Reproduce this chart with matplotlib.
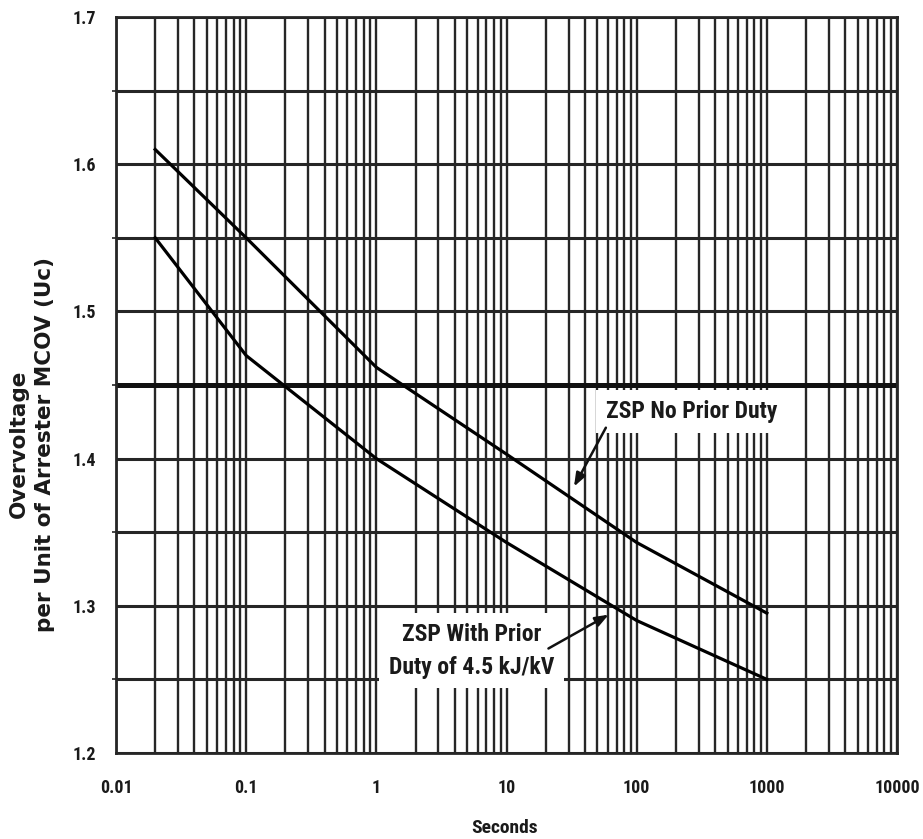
import matplotlib
matplotlib.use("Agg")
import matplotlib.pyplot as plt
from matplotlib.ticker import FixedLocator, MultipleLocator, LogLocator, NullFormatter

FONT = ["Roboto Condensed", "Open Sans Condensed", "DejaVu Sans"]
plt.rcParams["font.family"] = FONT
plt.rcParams["font.stretch"] = "condensed"

# Time (s) vs. per-unit overvoltage capability
seconds = [0.02, 0.1, 1, 10, 100, 1000]
no_prior_duty = [1.61, 1.55, 1.462, 1.403, 1.343, 1.295]
with_prior_duty = [1.55, 1.47, 1.40, 1.343, 1.29, 1.25]

x_ticks = [0.01, 0.1, 1, 10, 100, 1000, 10000]
x_tick_labels = ["0.01", "0.1", "1", "10", "100", "1000", "10000"]
y_ticks = [1.2, 1.3, 1.4, 1.5, 1.6, 1.7]
y_tick_labels = ["1.2", "1.3", "1.4", "1.5", "1.6", "1.7"]
heavy_levels = [1.45]

W, H = 923, 839
fig = plt.figure(figsize=(W / 100, H / 100), dpi=100)
ax = fig.add_axes([116 / W, 1 - 753 / H, (897 - 116) / W, (753 - 17) / H])

ax.set_xscale("log")
ax.set_xlim(0.01, 10000)
ax.set_ylim(1.2, 1.7)

grid_col = "#262626"
ax.xaxis.set_major_locator(FixedLocator(x_ticks))
ax.set_xticklabels(x_tick_labels)
ax.xaxis.set_minor_locator(LogLocator(base=10, subs=range(2, 10), numticks=20))
ax.xaxis.set_minor_formatter(NullFormatter())
ax.yaxis.set_major_locator(FixedLocator(y_ticks))
ax.set_yticklabels(y_tick_labels)
ax.yaxis.set_minor_locator(MultipleLocator(0.05))

ax.xaxis.grid(True, which="both", color=grid_col, linewidth=1.7)
ax.yaxis.grid(True, which="both", color=grid_col, linewidth=2.2)
ax.set_axisbelow(True)
for lvl in heavy_levels:
    ax.axhline(lvl, color="#111111", linewidth=3.6, zorder=1)

for s in ax.spines.values():
    s.set_color(grid_col)
    s.set_linewidth(2)

ax.tick_params(axis="x", which="major", length=0, pad=19)
ax.tick_params(axis="x", which="minor", length=0)
ax.tick_params(axis="y", which="major", length=0, pad=14)
ax.tick_params(axis="y", which="minor", length=3, width=1.2, color=grid_col)
for lab in ax.get_xticklabels() + ax.get_yticklabels():
    lab.set_fontsize(13)
    lab.set_fontweight("bold")
    lab.set_color("#1a1a1a")

ax.plot(seconds, no_prior_duty, color="black", linewidth=2.3, zorder=3)
ax.plot(seconds, with_prior_duty, color="black", linewidth=2.3, zorder=3)

ax.text(265, 1.432, "ZSP No Prior Duty", ha="center", va="center",
        fontsize=17, fontweight="bold", color="#1a1a1a",
        bbox=dict(facecolor="white", edgecolor="none", pad=7), zorder=4)
ax.text(5.4, 1.2695, "ZSP With Prior\nDuty of 4.5 kJ/kV", ha="center", va="center",
        fontsize=17, fontweight="bold", color="#1a1a1a", linespacing=1.55,
        bbox=dict(facecolor="white", edgecolor="none", pad=7), zorder=4)

arrow = dict(arrowstyle="-|>,head_length=0.8,head_width=0.3", color="#111111",
             linewidth=1.8, shrinkA=0, shrinkB=0)
ax.annotate("", xy=(33, 1.381), xytext=(58, 1.421), arrowprops=arrow, zorder=5)
ax.annotate("", xy=(61, 1.294), xytext=(21, 1.271), arrowprops=arrow, zorder=5)

fig.text(32 / W, 1 - 444 / H, "Overvoltage\nper Unit of Arrester MCOV (Uc)",
         rotation=90, ha="center", va="center", multialignment="center",
         fontsize=15.5, fontweight="bold", color="#1a1a1a", linespacing=1.4,
         family=["DejaVu Sans"], stretch="normal")
fig.text(505 / W, 1 - 828 / H, "Seconds", ha="center", va="center",
         fontsize=14, fontweight="bold", color="#1a1a1a")

fig.savefig("out.png", dpi=100, facecolor="white")
